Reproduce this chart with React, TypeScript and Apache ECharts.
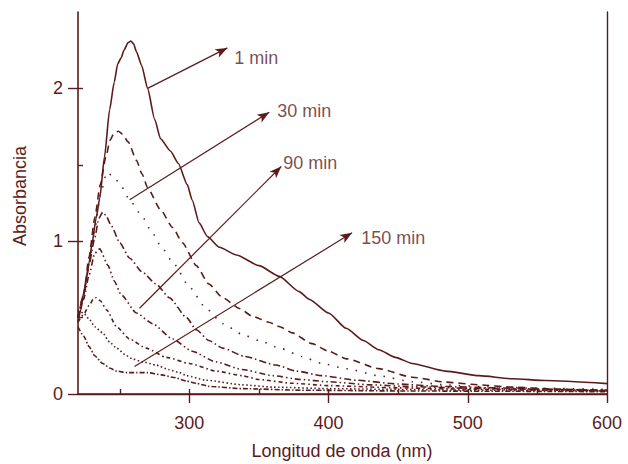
import React, { useEffect, useRef } from "react";
import * as echarts from "echarts";

const COLOR = "#5b1b1b";
const FONT = "Liberation Sans, Arial, sans-serif";

// Absorbance spectra: [wavelength nm, absorbance]
const curve1: number[][] = [
  [220, 0.47], [222, 0.55], [224, 0.66], [226, 0.75], [228, 0.86], [230, 0.98], [233, 1.15],
  [235.6, 1.28], [239, 1.55], [242.7, 1.86], [246, 2.04], [248.5, 2.16], [251, 2.2], [253, 2.25],
  [256, 2.3], [258, 2.31], [260, 2.29], [262, 2.24], [265.7, 2.15], [270, 2.0], [275, 1.8], [279.3, 1.67],
  [286.4, 1.59], [292, 1.51], [298.5, 1.37], [302, 1.27], [307, 1.12], [313, 1.03], [321.6, 0.96],
  [333.8, 0.91], [350, 0.84], [364.6, 0.77], [378.9, 0.67], [386, 0.62], [400, 0.53], [412.6, 0.43],
  [425, 0.35], [436, 0.29], [448, 0.24], [460, 0.2], [484, 0.15], [508, 0.12], [532, 0.1], [556, 0.088], [600, 0.068],
];
const curve2: number[][] = [
  [220, 0.5], [224, 0.65], [228, 0.9], [232, 1.15], [236, 1.37], [240, 1.55], [243, 1.66], [246, 1.71],
  [249, 1.72], [252, 1.7], [256, 1.65], [262, 1.53], [266, 1.44], [270, 1.35], [279, 1.21], [288, 1.09],
  [295, 0.99], [305, 0.84], [314, 0.72], [324, 0.63], [336, 0.56], [345, 0.51], [357, 0.47], [365, 0.44],
  [374, 0.4], [388, 0.33], [400, 0.28], [413, 0.23], [436, 0.166], [460, 0.11], [484, 0.078],
  [508, 0.06], [532, 0.045], [560, 0.033], [600, 0.022],
];
const curve3: number[][] = [
  [220, 0.5], [224, 0.62], [228, 0.85], [232, 1.08], [236, 1.3], [240.6, 1.45], [246, 1.42], [251, 1.36],
  [257, 1.27], [265.6, 1.17], [273, 1.06], [280, 0.96], [289, 0.85], [300, 0.7], [312, 0.56], [324, 0.46],
  [338, 0.39], [350, 0.35], [365, 0.3], [381, 0.245], [395, 0.2], [413, 0.165], [436, 0.12], [460, 0.08],
  [484, 0.06], [510, 0.048], [550, 0.038], [600, 0.03],
];
const curve4: number[][] = [
  [220, 0.5], [224, 0.65], [228, 0.85], [232, 1.02], [235, 1.15], [237.8, 1.19], [240, 1.17], [244, 1.1],
  [250, 0.99], [257, 0.89], [266, 0.8], [276, 0.72], [285.7, 0.63], [298, 0.5], [305, 0.42], [314, 0.35],
  [324, 0.3], [340, 0.245], [362, 0.19], [377, 0.15], [395, 0.12], [420, 0.09], [450, 0.065], [480, 0.05],
  [520, 0.04], [560, 0.03], [600, 0.025],
];
const curve5: number[][] = [
  [220, 0.5], [224, 0.62], [228, 0.78], [232, 0.92], [235.6, 0.95], [241.6, 0.84], [246, 0.74], [251, 0.65],
  [262, 0.53], [273.6, 0.46], [288, 0.36], [302, 0.28], [319, 0.21], [338, 0.16], [360, 0.12], [380, 0.095],
  [400, 0.08], [430, 0.06], [460, 0.048], [500, 0.038], [550, 0.03], [600, 0.022],
];
const curve6: number[][] = [
  [220, 0.47], [224, 0.52], [228, 0.58], [231, 0.62], [233, 0.63], [236, 0.61], [240.6, 0.55], [247.7, 0.44],
  [257, 0.36], [269, 0.3], [283.5, 0.24], [300, 0.2], [319, 0.15], [338, 0.12], [350, 0.095], [374, 0.07],
  [400, 0.055], [450, 0.04], [500, 0.032], [550, 0.026], [600, 0.02],
];
const curve7: number[][] = [
  [220, 0.55], [224, 0.53], [228, 0.49], [232, 0.44], [237.7, 0.4], [242.7, 0.34], [247.7, 0.3], [255, 0.25],
  [259, 0.23], [266.6, 0.21], [276, 0.19], [285, 0.16], [293, 0.14], [298, 0.12], [312, 0.09], [338, 0.06],
  [360, 0.045], [400, 0.035], [450, 0.03], [500, 0.025], [600, 0.02],
];
const curve8: number[][] = [
  [220, 0.44], [224, 0.38], [228, 0.31], [232, 0.25], [237.7, 0.2], [242.7, 0.17], [247.7, 0.15], [255, 0.14],
  [262, 0.14], [270, 0.14], [280, 0.125], [288, 0.11], [298, 0.085], [305, 0.07], [314, 0.05], [338, 0.035],
  [380, 0.025], [450, 0.02], [520, 0.018], [600, 0.015],
];

const curves = [curve1, curve2, curve3, curve4, curve5, curve6, curve7, curve8];
const dashes: (string | number[])[] = [
  "solid", [7, 5], [1.5, 8], [7, 3, 1.5, 3], [6, 3, 1.5, 3, 1.5, 3], [4, 3, 1.5, 3], [1.5, 2.5], [5, 2, 1.5, 2],
];

// Annotations (arrows from curve to label), in data coordinates
const arrowLabels = ["1 min", "30 min", "90 min", "150 min"];
const arrowStarts: number[][] = [[270, 2.0], [257.1, 1.272], [264.2, 0.561], [260.6, 0.18]];
const arrowEnds: number[][] = [[327.3, 2.265], [357.4, 1.844], [366.0, 1.489], [416.9, 1.055]];
const labelPos: number[][] = [[332.3, 2.197], [363.2, 1.85], [367.5, 1.515], [423.4, 1.022]];

const xMajor = [300, 400, 500, 600];
const xInner = [250, 300, 350, 400, 450, 500, 550];
const yMajor = [0, 1, 2];
const yInner = [0.5, 1, 1.5, 2];

export default function App() {
  const ref = useRef<HTMLDivElement>(null);
  useEffect(() => {
    if (!ref.current) return;
    const chart = echarts.init(ref.current, null, { renderer: "svg" });
    const axisBase = { min: 220, max: 600, type: "value" as const, splitLine: { show: false } };
    const yBase = { min: 0, max: 2.5, type: "value" as const, splitLine: { show: false } };
    const lineSeries = curves.map((c, i) => ({
      type: "line",
      data: c,
      showSymbol: false,
      symbol: "none",
      smooth: 0.2,
      smoothMonotone: "x",
      lineStyle: { color: COLOR, width: 1.6, type: dashes[i] as any },
      silent: true,
      z: 3,
    }));
    chart.setOption({
      animation: false,
      grid: { left: 78, right: 21, top: 12, bottom: 70 },
      textStyle: { fontFamily: FONT },
      xAxis: [
        {
          ...axisBase,
          position: "bottom",
          axisLine: { show: true, lineStyle: { color: COLOR, width: 1.6 } },
          axisTick: { show: true, inside: false, length: 9, customValues: xMajor, lineStyle: { color: COLOR, width: 1.4 } },
          axisLabel: { show: true, customValues: xMajor, color: COLOR, fontSize: 18, fontFamily: FONT, margin: 20 },
        },
        {
          ...axisBase,
          position: "bottom",
          axisLine: { show: false },
          axisTick: { show: true, inside: true, length: 5, customValues: xInner, lineStyle: { color: COLOR, width: 1.4 } },
          axisLabel: { show: false },
        },
        {
          ...axisBase,
          position: "top",
          axisLine: { show: true, lineStyle: { color: COLOR, width: 1.4 } },
          axisTick: { show: false },
          axisLabel: { show: false },
        },
      ],
      yAxis: [
        {
          ...yBase,
          position: "left",
          axisLine: { show: true, lineStyle: { color: COLOR, width: 1.6 } },
          axisTick: { show: true, inside: false, length: 10, customValues: yMajor, lineStyle: { color: COLOR, width: 1.4 } },
          axisLabel: { show: true, customValues: yMajor, color: COLOR, fontSize: 18, fontFamily: FONT, margin: 15 },
        },
        {
          ...yBase,
          position: "left",
          axisLine: { show: false },
          axisTick: { show: true, inside: true, length: 5, customValues: yInner, lineStyle: { color: COLOR, width: 1.4 } },
          axisLabel: { show: false },
        },
        {
          ...yBase,
          position: "right",
          axisLine: { show: true, lineStyle: { color: COLOR, width: 1.4 } },
          axisTick: { show: false },
          axisLabel: { show: false },
        },
      ],
      series: [
        ...lineSeries,
        {
          type: "line",
          data: [],
          silent: true,
          markLine: {
            silent: true,
            animation: false,
            symbol: ["none", "arrow"],
            symbolSize: [7, 12],
            label: { show: false },
            emphasis: { disabled: true },
            lineStyle: { color: COLOR, width: 1.2, type: "solid" },
            itemStyle: { color: COLOR },
            data: arrowStarts.map((s, i) => [{ coord: s }, { coord: arrowEnds[i] }]),
          },
        },
        {
          type: "scatter",
          symbolSize: 0,
          silent: true,
          data: labelPos.map((p, i) => ({ value: p, name: arrowLabels[i] })),
          label: {
            show: true,
            position: "right",
            distance: 0,
            formatter: (p: any) => p.name,
            color: COLOR,
            fontSize: 18,
            fontFamily: FONT,
          },
        },
      ],
      graphic: [
        {
          type: "text",
          x: 342,
          y: 451,
          style: {
            text: "Longitud de onda (nm)",
            fill: COLOR,
            font: `18px ${FONT}`,
            align: "center",
            verticalAlign: "middle",
          },
        },
        {
          type: "text",
          x: 20,
          y: 196,
          rotation: Math.PI / 2,
          style: {
            text: "Absorbancia",
            fill: COLOR,
            font: `18px ${FONT}`,
            align: "center",
            verticalAlign: "middle",
          },
        },
      ],
    });
    return () => chart.dispose();
  }, []);
  return <div ref={ref} style={{ position: "fixed", left: 0, top: 0, width: 628, height: 464, background: "#fff" }} />;
}
